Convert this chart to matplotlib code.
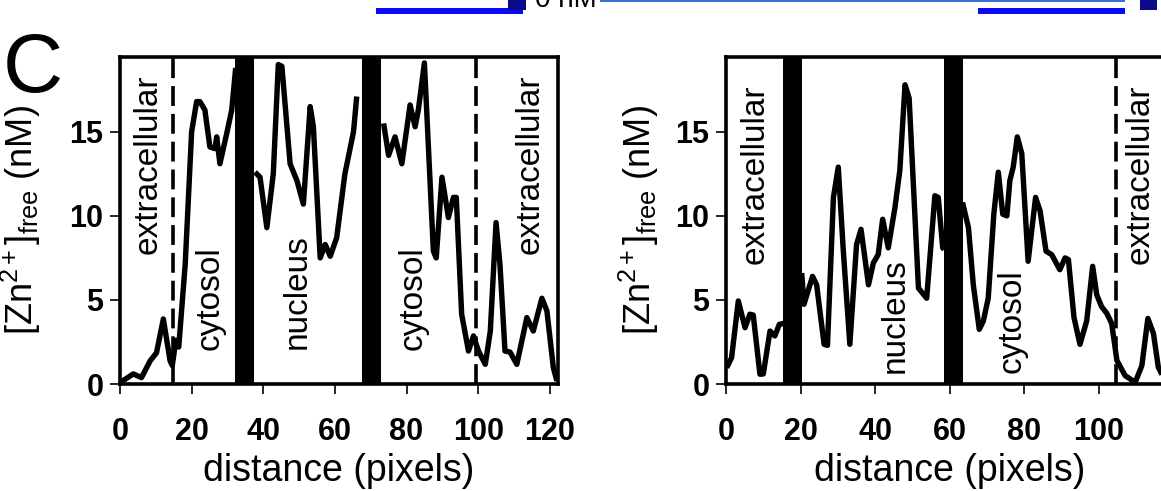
import matplotlib
matplotlib.use('Agg')
import matplotlib.pyplot as plt
from matplotlib.patches import Rectangle

plt.rcParams['font.family'] = ['Liberation Sans', 'DejaVu Sans']
plt.rcParams['mathtext.fontset'] = 'custom'
plt.rcParams['mathtext.rm'] = 'Liberation Sans'
plt.rcParams['mathtext.it'] = 'Liberation Sans:italic'
plt.rcParams['mathtext.bf'] = 'Liberation Sans:bold'

# ---------------- data ----------------
y_ticks = [0, 5, 10, 15]
left_xticks = [0, 20, 40, 60, 80, 100, 120]
right_xticks = [0, 20, 40, 60, 80, 100]

# left panel profile (three segments, interrupted by nuclear envelope bands)
left_seg1_x = [0, 3.7, 6.0, 8.4, 10.2, 12.1, 14.0, 14.6, 15.6, 16.4, 18.2, 20.0, 21.4, 22.3,
               23.7, 25.1, 26.5, 27.0, 27.9, 29.8, 31.2, 32.3]
left_seg1_y = [0.08, 0.6, 0.38, 1.37, 1.86, 3.87, 1.37, 1.1, 2.6, 2.2, 7.1, 15.0, 16.8, 16.8,
               16.3, 14.1, 14.0, 14.7, 13.1, 14.9, 16.3, 18.8]
left_seg2_x = [37.7, 39.1, 41.0, 42.8, 44.2, 45.2, 47.5, 49.4, 51.2, 53.1, 54.0, 55.9, 57.3,
               58.7, 60.5, 62.8, 65.2, 66.1]
left_seg2_y = [12.6, 12.3, 9.3, 12.5, 19.0, 18.9, 13.1, 12.1, 10.7, 16.5, 15.3, 7.5, 8.3,
               7.6, 8.7, 12.5, 15.0, 17.1]
left_seg3_x = [73.6, 75.0, 76.8, 78.7, 81.0, 82.4, 83.3, 85.0, 87.5, 88.3, 89.9, 91.7, 93.1,
               93.9, 95.4, 97.3, 98.7, 100.1, 102.0, 103.4, 105.0, 106.1, 107.5, 108.9,
               110.8, 113.6, 115.4, 117.8, 119.2, 121.0, 122.0]
left_seg3_y = [15.5, 13.6, 14.7, 13.1, 16.6, 15.3, 16.3, 19.1, 7.9, 7.5, 12.3, 9.9, 11.1,
               11.1, 4.15, 1.96, 2.86, 1.96, 1.17, 3.15, 9.6, 7.1, 1.96, 1.9,
               1.17, 3.95, 3.15, 5.1, 4.35, 0.97, 0.18]
left_bands = [(32.1, 37.4), (67.6, 72.9)]
left_dashes = [14.8, 99.4]
left_labels = [("extracellular", 7.8, 18.4, 'top'), ("cytosol", 25.1, 2.0, 'bottom'),
               ("nucleus", 49.4, 2.1, 'bottom'), ("cytosol", 81.8, 2.0, 'bottom'),
               ("extracellular", 114.5, 18.4, 'top')]

# right panel profile
right_seg1_x = [0.2, 1.5, 3.3, 5.1, 6.4, 7.3, 9.1, 10.0, 11.8, 13.1, 14.3, 15.4]
right_seg1_y = [0.97, 1.57, 4.94, 3.35, 4.15, 4.1, 0.58, 0.6, 3.15, 2.86, 3.55, 3.6]
right_seg2_x = [20.3, 20.9, 23.2, 24.3, 26.3, 27.2, 28.8, 30.1, 31.4, 33.2, 35.0, 36.2, 38.2,
                39.5, 40.8, 42.0, 43.5, 45.3, 46.6, 48.0, 49.1, 51.6, 53.8, 56.0, 56.9,
                58.1, 58.5]
right_seg2_y = [6.6, 4.74, 6.4, 5.9, 2.36, 2.3, 11.1, 12.9, 8.1, 2.36, 8.3, 9.2, 5.9,
                7.2, 7.7, 9.8, 8.1, 10.5, 12.7, 17.8, 17.0, 5.7, 5.1, 11.2, 11.1,
                8.1, 8.0]
right_seg3_x = [63.4, 65.0, 66.3, 67.9, 69.0, 70.3, 71.8, 73.0, 74.2, 75.3, 76.1, 77.0, 78.1,
                79.3, 81.0, 83.0, 84.2, 85.8, 87.3, 89.5, 90.9, 91.8, 93.3, 94.9, 96.7,
                98.3, 99.4, 100.7, 102.1, 103.4, 104.8, 107.0, 109.7, 111.5, 113.1,
                114.6, 115.9, 117.5]
right_seg3_y = [10.8, 9.3, 5.9, 3.25, 3.75, 5.1, 10.1, 12.6, 10.1, 10.0, 12.1, 12.9, 14.7,
                13.7, 7.3, 11.1, 10.3, 7.9, 7.7, 6.8, 7.5, 7.4, 3.95, 2.36, 3.75,
                7.0, 5.3, 4.6, 4.2, 3.6, 1.4, 0.5, 0.1, 1.1, 3.9,
                3.0, 1.0, 0.3]
right_bands = [(15.3, 20.4), (58.4, 63.5)]
right_dashes = [104.6]
right_labels = [("extracellular", 7.8, 17.8, 'top'), ("nucleus", 45.3, 0.65, 'bottom'),
                ("cytosol", 76.7, 0.65, 'bottom'), ("extracellular", 111.0, 17.8, 'top')]

ylabel = r'[Zn$^{2+}$]$_{\mathrm{free}}$ (nM)'
xlabel = 'distance (pixels)'

# ---------------- figure ----------------
W, H = 1161, 491
fig = plt.figure(figsize=(W / 100, H / 100), dpi=100)


def axrect(x0, x1, ytop, ybot):
    return [x0 / W, 1 - ybot / H, (x1 - x0) / W, (ybot - ytop) / H]


axL = fig.add_axes(axrect(120, 558, 57, 384))
axR = fig.add_axes(axrect(726, 726 + 120 * 3.73, 57, 384))


def draw_panel(ax, segs, bands, dashes, labels, xlim, xticks, ylab_x):
    for xs, ys in segs:
        ax.plot(xs, ys, color='black', lw=3.9, solid_joinstyle='round',
                solid_capstyle='butt', zorder=2)
    for a, b in bands:
        ax.axvspan(a, b, color='black', lw=0, zorder=3)
    for d in dashes:
        ax.axvline(d, color='black', lw=2.6, ls=(0, (5.5, 2.2)), zorder=1)
    for s, x, y, va in labels:
        ax.text(x, y, s, rotation=90, ha='center', va=va, fontsize=24, zorder=4)
    ax.set_xlim(*xlim)
    ax.set_ylim(0, 19.45)
    ax.set_xticks(xticks)
    ax.set_yticks(y_ticks)
    for sp in ax.spines.values():
        sp.set_linewidth(2.6)
        sp.set_zorder(5)
    ax.tick_params(direction='out', length=7, width=1.2, labelsize=22,
                   top=False, right=False)
    ax.tick_params(axis='y', pad=5)
    ax.tick_params(axis='x', pad=17)
    for lab in ax.get_xticklabels() + ax.get_yticklabels():
        lab.set_fontweight('bold')
    ax.set_xlabel(xlabel, fontsize=27, labelpad=4)
    ax.set_ylabel(ylabel, fontsize=26)
    ax.yaxis.set_label_coords(ylab_x, 0.5)


draw_panel(axL,
           [(left_seg1_x, left_seg1_y), (left_seg2_x, left_seg2_y), (left_seg3_x, left_seg3_y)],
           left_bands, left_dashes, left_labels, (0, 122.3), left_xticks, -0.175)
draw_panel(axR,
           [(right_seg1_x, right_seg1_y), (right_seg2_x, right_seg2_y), (right_seg3_x, right_seg3_y)],
           right_bands, right_dashes, right_labels, (0, 120), right_xticks, -0.145)

# panel letter
fig.text(3 / W, 1 - 92 / H, 'C', fontsize=60, ha='left', va='baseline')


# cropped remnants of the panel above
def fig_rect(x, y, w, h, color):
    fig.add_artist(Rectangle((x / W, 1 - (y + h) / H), w / W, h / H,
                             transform=fig.transFigure, color=color, lw=0))


fig_rect(376, 8, 147, 6, '#0a0af5')
fig_rect(978, 8, 147, 6, '#0a0af5')
fig_rect(508, 0, 18, 10, '#0a0a8c')
fig_rect(1140, 0, 17, 10, '#0a0a8c')
fig_rect(600, 0, 525, 2, '#3a6fd0')
fig.text(535 / W, 1.0, '0 nM', fontsize=20, ha='left', va='center')

fig.savefig('out.png', dpi=100)
